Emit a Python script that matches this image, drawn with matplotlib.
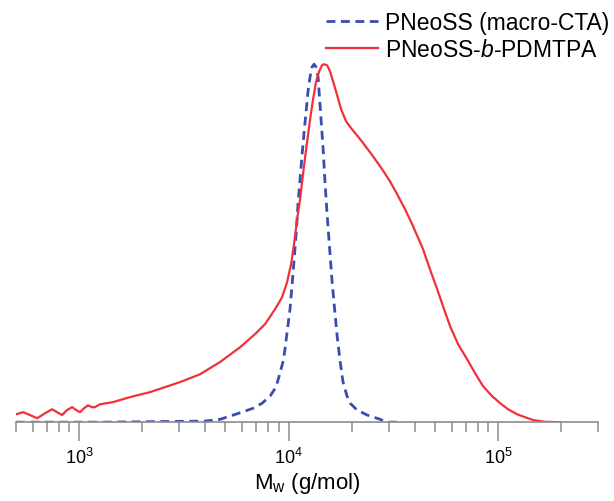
import matplotlib
matplotlib.use("Agg")
from matplotlib import pyplot as plt
from matplotlib.ticker import LogLocator, NullFormatter
import numpy as np

plt.rcParams['font.family'] = ['Liberation Sans', 'DejaVu Sans']
plt.rcParams['mathtext.fontset'] = 'custom'
plt.rcParams['mathtext.rm'] = 'Liberation Sans'
plt.rcParams['mathtext.it'] = 'Liberation Sans:italic'

# log10 of molar mass (g/mol) and normalised detector response
logm_cta = [2.699, 3.100, 3.601, 3.673, 3.721, 3.778, 3.831, 3.874, 3.912, 3.940,
            3.959, 3.974, 3.983, 3.993, 4.007, 4.017, 4.026, 4.036, 4.045, 4.055,
            4.064, 4.074, 4.084, 4.093, 4.103, 4.112, 4.122, 4.131, 4.141, 4.150,
            4.165, 4.174, 4.184, 4.198, 4.208, 4.222, 4.232, 4.246, 4.260, 4.279,
            4.294, 4.327, 4.375, 4.437, 4.470, 4.547]
w_cta = [0.0, 0.0, 0.003, 0.008, 0.017, 0.028, 0.039, 0.053, 0.073, 0.098,
         0.137, 0.170, 0.204, 0.251, 0.316, 0.385, 0.450, 0.525, 0.609, 0.679,
         0.743, 0.810, 0.869, 0.925, 0.966, 0.992, 1.000, 0.992, 0.964, 0.888,
         0.763, 0.670, 0.581, 0.469, 0.391, 0.302, 0.240, 0.170, 0.112, 0.073,
         0.053, 0.034, 0.020, 0.008, 0.0, 0.0]

logm_block = [2.699, 2.733, 2.766, 2.800, 2.838, 2.871, 2.895, 2.919, 2.943, 2.967,
              2.986, 3.005, 3.024, 3.043, 3.062, 3.076, 3.100, 3.162, 3.243, 3.339,
              3.411, 3.482, 3.578, 3.673, 3.768, 3.840, 3.888, 3.936, 3.969, 3.993,
              4.012, 4.026, 4.041, 4.055, 4.069, 4.084, 4.103, 4.117, 4.131, 4.146,
              4.160, 4.169, 4.184, 4.198, 4.212, 4.232, 4.251, 4.274, 4.303, 4.341,
              4.389, 4.437, 4.484, 4.518, 4.556, 4.590, 4.642, 4.675, 4.709, 4.742,
              4.771, 4.809, 4.852, 4.890, 4.928, 4.971, 5.010, 5.048, 5.091, 5.129,
              5.167, 5.224, 5.296]
w_block = [0.022, 0.028, 0.020, 0.011, 0.025, 0.036, 0.028, 0.020, 0.034, 0.042,
           0.034, 0.028, 0.039, 0.047, 0.042, 0.042, 0.050, 0.056, 0.070, 0.084,
           0.098, 0.112, 0.134, 0.168, 0.209, 0.246, 0.274, 0.316, 0.349, 0.391,
           0.441, 0.497, 0.567, 0.623, 0.693, 0.763, 0.846, 0.902, 0.950, 0.980,
           0.997, 1.000, 0.997, 0.980, 0.953, 0.913, 0.874, 0.841, 0.818, 0.791,
           0.754, 0.715, 0.673, 0.637, 0.595, 0.553, 0.483, 0.427, 0.372, 0.316,
           0.268, 0.218, 0.176, 0.137, 0.101, 0.073, 0.053, 0.036, 0.022, 0.014,
           0.006, 0.001, 0.0]

labels = ['PNeoSS (macro-CTA)', 'PNeoSS-$\\it{b}$-PDMTPA']

fig = plt.figure(figsize=(6.14, 5.02), dpi=100)
ax = fig.add_axes([0.026, 0.157, 0.948, 0.783])

ax.plot(10 ** np.array(logm_cta), w_cta, color='#3a4cb0', lw=2.0,
        ls=(0, (3.2, 2)), label=labels[0])
ax.plot(10 ** np.array(logm_block), w_block, color='#f0313c', lw=1.6,
        label=labels[1])

ax.set_xscale('log')
ax.set_xlim(500, 3e5)
ax.set_ylim(0, 1.098)

for s in ['left', 'right', 'top']:
    ax.spines[s].set_visible(False)
ax.spines['bottom'].set_color('#8c8c8c')
ax.spines['bottom'].set_linewidth(1.2)
ax.set_yticks([])

ax.xaxis.set_major_locator(LogLocator(base=10))
ax.xaxis.set_minor_locator(LogLocator(base=10, subs=range(2, 10)))
ax.xaxis.set_minor_formatter(NullFormatter())
ax.tick_params(axis='x', which='major', length=14, width=1.1, color='#8c8c8c',
               direction='out', labelsize=13, pad=4)
ax.tick_params(axis='x', which='minor', length=7, width=1.1, color='#8c8c8c',
               direction='out')

ax.set_xlabel('M$_\\mathregular{w}$ (g/mol)', fontsize=16, labelpad=2)

leg = fig.legend(loc='upper right', bbox_to_anchor=(1.0, 0.985), frameon=False,
                 fontsize=16.5, handlelength=2.3, handletextpad=0.3,
                 labelspacing=0.15, borderaxespad=0.0, borderpad=0.2)

fig.savefig('out.png', dpi=100)
